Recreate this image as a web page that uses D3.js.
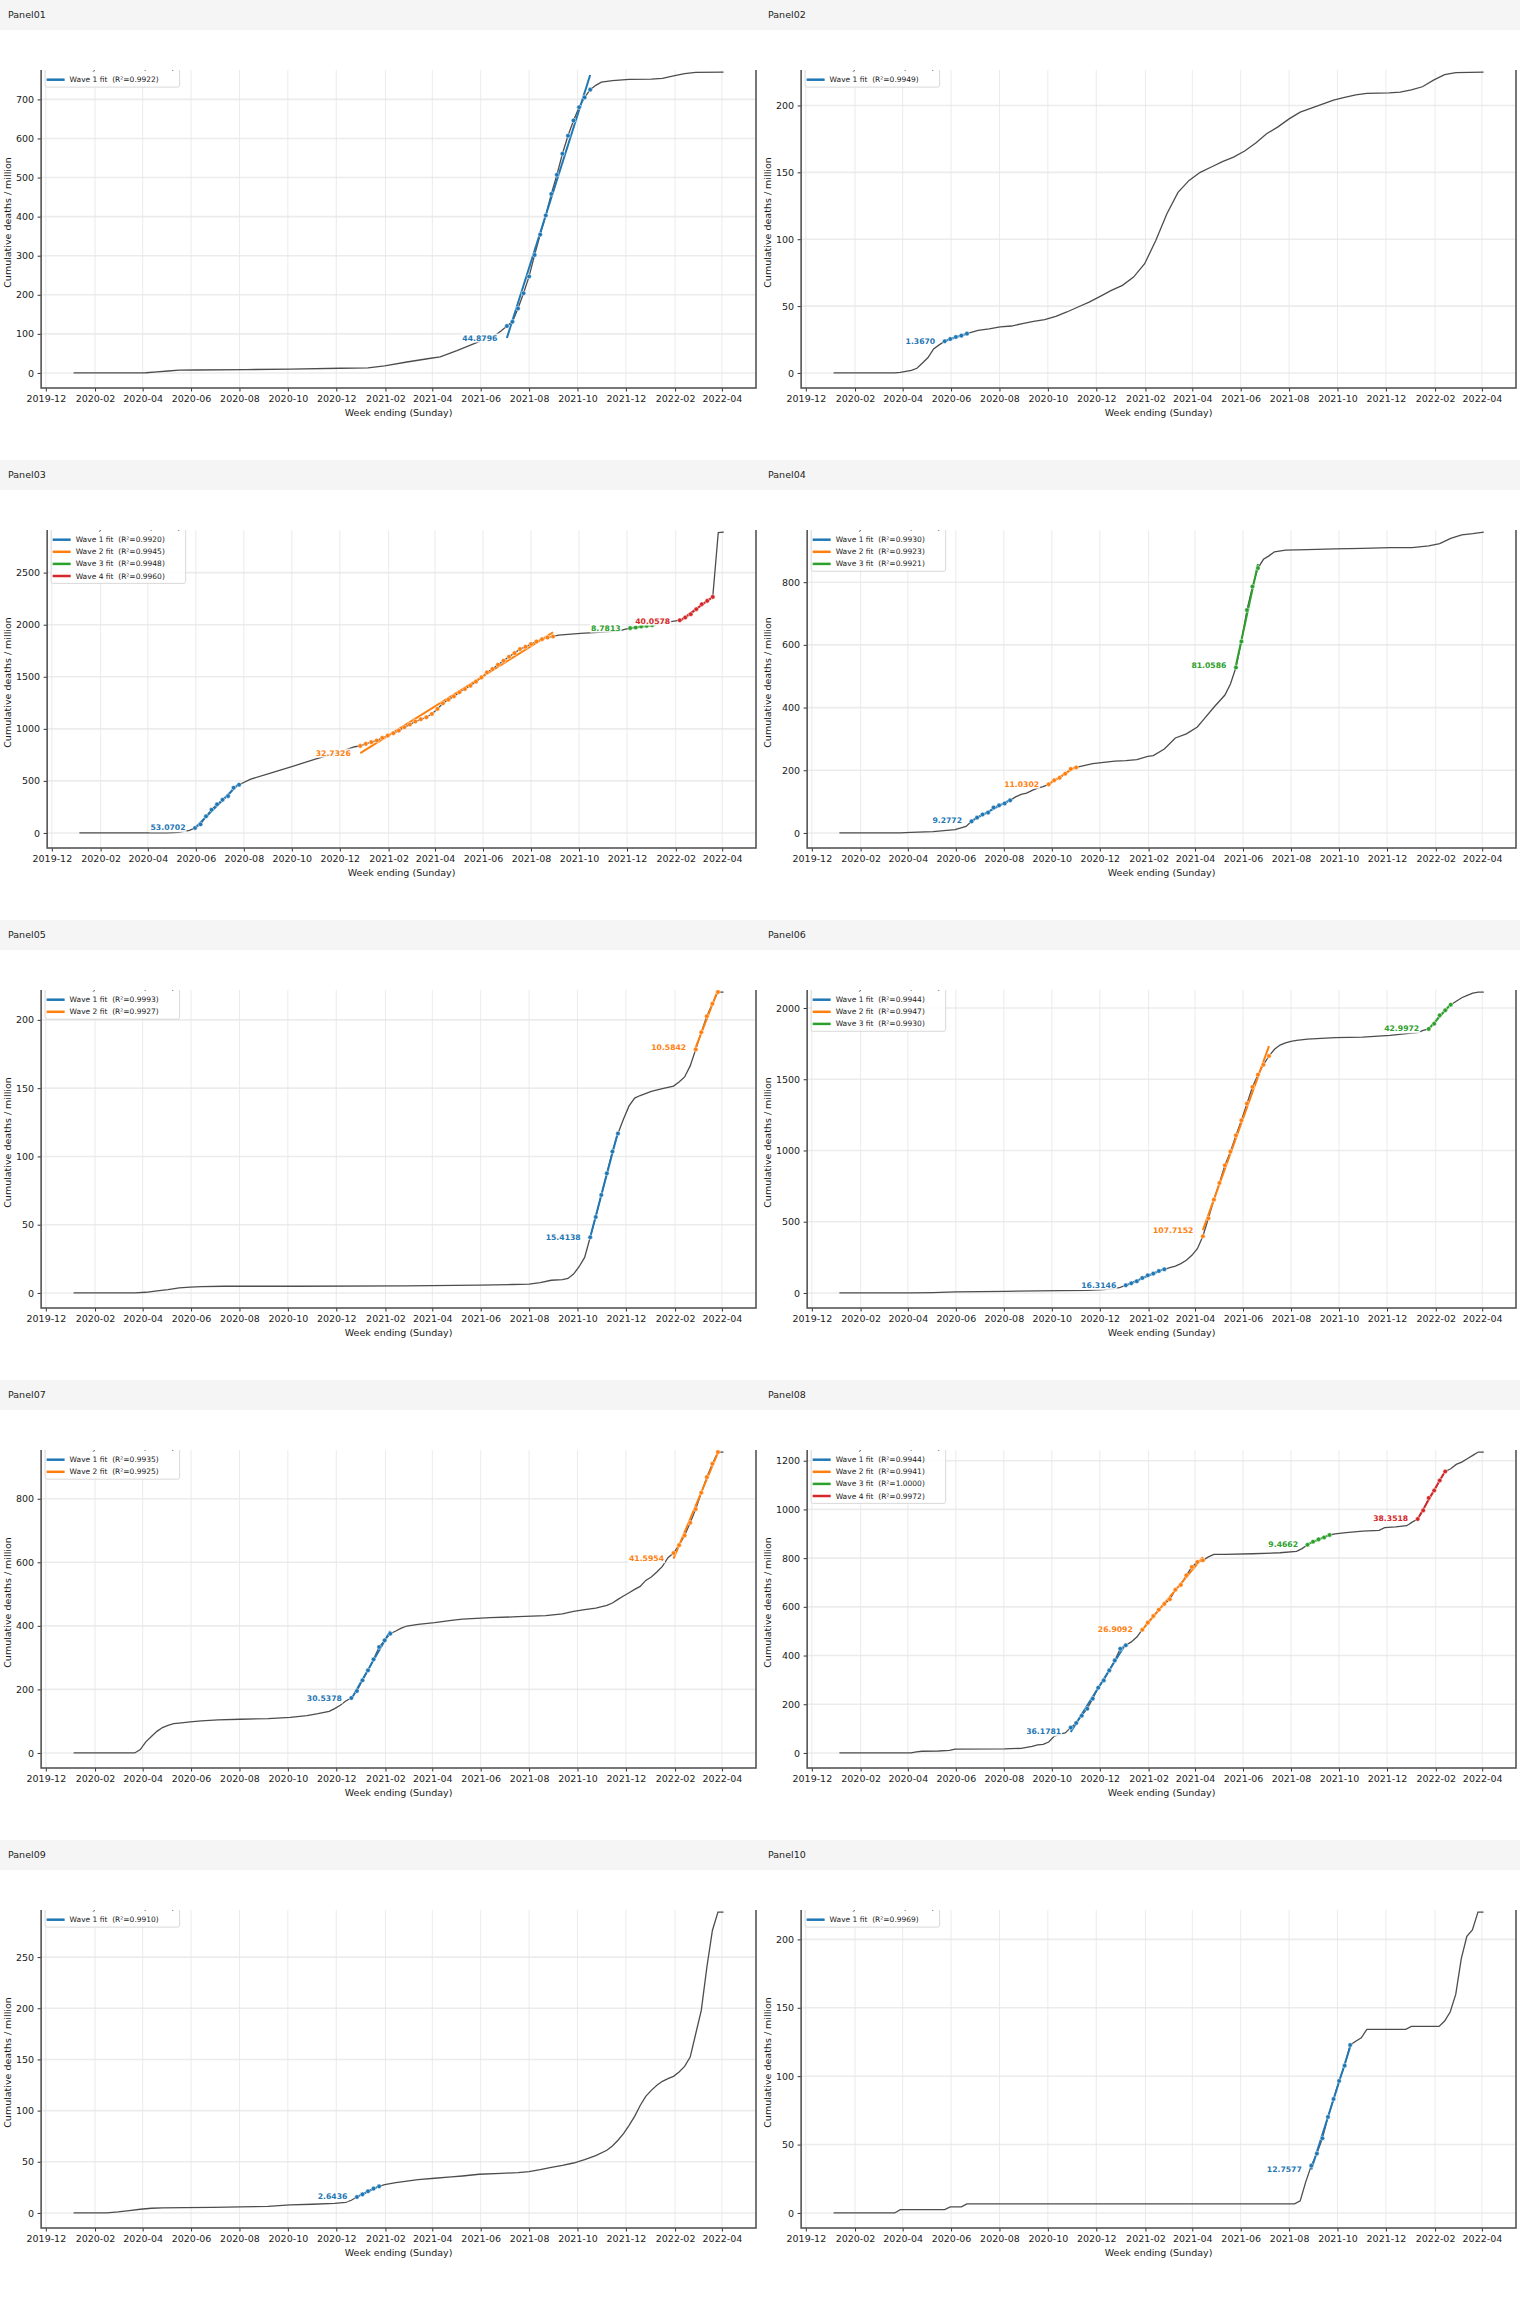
<!DOCTYPE html>
<html>
<head>
<meta charset="utf-8">
<script src="https://cdn.jsdelivr.net/npm/d3@7"></script>
<style>
  body { margin: 0; background: #fff; }
  text { font-family: "DejaVu Sans", sans-serif; }
</style>
</head>
<body>
<svg id="chart"></svg>
<script>
const width = 1520
const height = 2300
const panelW = 760
const panelH = 460

// week 0 is Sunday 2020-01-05, one point per week up to week 117
const firstWeek = new Date(Date.UTC(2020, 0, 5))
const waveColors = ["#1f77b4", "#ff7f0e", "#2ca02c", "#d62728"]
const lineLabel = "Weekly cumulative (n=118)"

// [week, cumulative deaths / million] outside the fitted waves
const line01 = [[0,0],[12,0],[13,0.5],[15,3],[17,5],[19,7],[22,7.5],[31,8.5],[39,10],[48,12],[53,13],[56,18],[60,28],[64,37],[66,41],[69,57],[73,80],[76,98],[77,108],[94,736],[95,744],[97,748],[100,751],[104,752],[106,754],[108,760],[110,766],[112,769],[117,770]]
const line02 = [[0,0],[11,0],[12,0.5],[14,2],[15,3.5],[16,7.5],[17,11.5],[18,18],[19,21],[26,31.9],[28,33],[30,34.4],[32,35.1],[34,36.9],[36,38.6],[38,39.9],[40,42.3],[42,45.6],[44,49.3],[46,53],[48,57.3],[50,61.8],[52,65.5],[54,71.7],[56,81.7],[58,99],[60,119],[62,135],[64,144],[66,150],[68,154],[70,158],[72,161.4],[74,166],[76,172],[78,179],[80,184],[82,190],[84,195],[86,198],[88,201],[90,204],[92,206],[94,208],[96,209],[100,209.5],[102,210],[104,211.7],[106,214],[108,219],[110,223],[112,224.6],[117,225]]
const line03 = [[0,0],[16,0],[18,6],[20,25],[31,515],[35,580],[39,645],[43,712],[47,775],[50,828],[87,1900],[91,1916],[95,1928],[98,1941],[99,1955],[105,2005],[107,2027],[108,2035],[116,2885],[117,2890]]
const line04 = [[0,0],[11,0],[13,2],[17,4],[21,10.6],[23,21],[32,115],[33,123],[34,127],[35,136],[36,143],[37,148],[44,213],[46,221],[48,225],[50,229],[52,231],[54,234],[56,244],[57,247],[59,268],[61,303],[63,316],[65,338],[66,359],[68,401],[70,440],[71,475],[77,873],[78,884],[79,897],[81,902],[85,904],[90,906],[95,908],[100,910],[104,910],[107,916],[109,923],[111,940],[113,951],[115,955],[117,960]]
const line05 = [[0,0],[11,0],[13,0.5],[15,1.5],[17,2.5],[19,3.7],[21,4.2],[23,4.7],[27,4.9],[40,4.9],[60,5.2],[73,5.7],[79,6.2],[82,6.4],[84,7.6],[86,9.3],[88,9.8],[89,10.6],[90,13.8],[91,19.2],[92,26],[99,127.4],[100,137],[101,142.7],[102,144.6],[104,147.6],[106,149.6],[108,151.5],[109,154.5],[110,158.2],[111,166.3],[117,220.4]]
const line06 = [[0,0],[13,0],[17,2.3],[21,7],[30,11.7],[40,16.4],[45,18.7],[48,23.4],[50,30],[51,40],[60,178],[61,189],[62,206],[63,229],[64,264],[65,311],[79,1710],[80,1740],[81,1755],[82,1765],[83,1773],[85,1782],[90,1792],[95,1796],[100,1808],[103,1820],[105,1827],[106,1843],[112,2047],[113,2072],[114,2089],[115,2105],[116,2112],[117,2112]]
const line07 = [[0,0],[11,0],[12,10.5],[13,35],[14,52],[15,68],[16,80],[17,87],[18,92],[19,94],[21,97.5],[23,100.7],[26,103.8],[30,106],[35,108],[39,112],[42,117.4],[44,123.7],[46,131],[47,139.5],[48,150],[49,163.6],[58,383.8],[59,393],[60,399.5],[62,404.7],[65,410],[68,417],[70,421.5],[75,425.7],[80,428.8],[85,432],[88,438],[90,445.6],[92,450.9],[94,456],[96,464.5],[97,471.8],[98,483.4],[99,493.8],[100,504.3],[101,514.8],[102,524.3],[103,543],[104,553.6],[105,569.3],[106,587],[107,614.4],[117,947]]
const line08 = [[0,0],[13,0],[14,4],[15,7],[18,8],[20,11],[21,16],[30,16.4],[33,19],[35,27],[36,33],[37,35.6],[38,45],[39,68],[40,77],[41,82],[53,456],[54,476],[67,805],[68,815.5],[70,815.5],[75,818],[80,822],[83,828],[84,839],[90,900],[92,904.5],[95,911],[98,914],[99,925],[101,928],[103,933],[104,948],[111,1167],[112,1185],[113,1194.5],[114,1208],[115,1222],[116,1235.6],[117,1235.6]]
const line09 = [[0,0],[6,0],[8,1],[10,2.3],[12,3.6],[14,4.6],[16,4.9],[20,5.2],[25,5.5],[30,5.9],[35,6.5],[39,7.8],[43,8.5],[47,9.4],[49,10.4],[50,12.4],[56,27.7],[58,29.6],[60,31.2],[62,32.6],[65,33.9],[68,35.2],[70,36.1],[73,37.8],[77,38.7],[80,39.4],[82,40.4],[84,42.3],[86,44.6],[88,46.5],[90,48.8],[92,52.1],[94,56],[96,61.2],[97,65.4],[98,71],[99,77.5],[100,85.6],[101,94.4],[102,105],[103,113.9],[104,119.8],[105,124.7],[106,128.6],[107,131.2],[108,133.5],[109,137.7],[110,143.2],[111,152.3],[112,175.1],[113,198],[114,240],[115,276],[116,294],[117,294]]
const line10 = [[0,0],[11,0],[12,2.4],[20,2.4],[21,4.4],[23,4.4],[24,6.6],[83,6.6],[84,8.8],[85,22.7],[94,125.5],[95,128.1],[96,134.2],[103,134.2],[104,136.4],[109,136.4],[110,140.3],[111,146.9],[112,159.8],[113,185.9],[114,202.2],[115,207],[116,220],[117,220]]

// waves: [first week, weekly values]
const waves01 = [[78,[120,131,165,204,247,302,354,403,458,507,561,607,646,680,705,725]]]
const waves02 = [[20,[23.7,25.4,26.9,27.9,29.4]]]
const waves03 = [[21,[48,83,160,223,275,319,354,434,463]],
                 [51,[836,856,872,888,913,935,958,983,1015,1041,1070,1092,1111,1143,1191,1245,1280,1312,1351,1382,1414,1453,1494,1542,1574,1616,1654,1692,1727,1766,1788,1814,1839,1861,1877,1887]],
                 [100,[1967,1973,1983,1989,1995]],
                 [109,[2043,2069,2101,2149,2197,2229,2267]]]
const waves04 = [[24,[37,49,59,65,81,88,94,104]],[38,[155,168,176,189,204,209]],[72,[528,611,711,786,845]]]
const waves05 = [[93,[40.8,55.6,71.8,87.6,103.6,116.8]],[112,[178.4,190.9,202.7,211.8,220.4]]]
const waves06 = [[52,[54,68,82,105,124,136,154,166]],[66,[398,524,655,772,896,992,1106,1212,1329,1446,1532,1602,1663]],[107,[1853,1890,1949,1984,2023]]]
const waves07 = [[50,[173,195,228.6,260,294.6,333.4,354.4,375.4]],[108,[629,654,684.7,724.5,767.5,819,868,910,946.8]]]
const waves08 = [[42,[104,123,153,182,223,268,298,339,380,428,442]],[55,[506,535,562,588,612,631,670,690,729,763.5,784,791]],[85,[855,867.5,877,885,895]],[105,[960.5,996,1047,1078,1119,1156]]]
const waves09 = [[51,[15.6,18.2,21.2,23.8,26]]]
const waves10 = [[86,[34.6,43.4,54.6,70.2,83.3,96.5,107.7,122.8]]]

// slope labels and R² per wave
const slopes01 = ["44.8796"], r2s01 = ["0.9922"]
const slopes02 = ["1.3670"], r2s02 = ["0.9949"]
const slopes03 = ["53.0702", "32.7326", "8.7813", "40.0578"], r2s03 = ["0.9920", "0.9945", "0.9948", "0.9960"]
const slopes04 = ["9.2772", "11.0302", "81.0586"], r2s04 = ["0.9930", "0.9923", "0.9921"]
const slopes05 = ["15.4138", "10.5842"], r2s05 = ["0.9993", "0.9927"]
const slopes06 = ["16.3146", "107.7152", "42.9972"], r2s06 = ["0.9944", "0.9947", "0.9930"]
const slopes07 = ["30.5378", "41.5954"], r2s07 = ["0.9935", "0.9925"]
const slopes08 = ["36.1781", "26.9092", "9.4662", "38.3518"], r2s08 = ["0.9944", "0.9941", "1.0000", "0.9972"]
const slopes09 = ["2.6436"], r2s09 = ["0.9910"]
const slopes10 = ["12.7577"], r2s10 = ["0.9969"]

const panels = [
  {name: "Panel01", line: line01, waves: waves01, slopes: slopes01, r2: r2s01},
  {name: "Panel02", line: line02, waves: waves02, slopes: slopes02, r2: r2s02},
  {name: "Panel03", line: line03, waves: waves03, slopes: slopes03, r2: r2s03},
  {name: "Panel04", line: line04, waves: waves04, slopes: slopes04, r2: r2s04},
  {name: "Panel05", line: line05, waves: waves05, slopes: slopes05, r2: r2s05},
  {name: "Panel06", line: line06, waves: waves06, slopes: slopes06, r2: r2s06},
  {name: "Panel07", line: line07, waves: waves07, slopes: slopes07, r2: r2s07},
  {name: "Panel08", line: line08, waves: waves08, slopes: slopes08, r2: r2s08},
  {name: "Panel09", line: line09, waves: waves09, slopes: slopes09, r2: r2s09},
  {name: "Panel10", line: line10, waves: waves10, slopes: slopes10, r2: r2s10}
]

const svg = d3.select("#chart")
  .attr("width", width)
  .attr("height", height)

// everything above y=70 in a panel is cut off, like the source images
svg.append("defs").append("clipPath")
  .attr("id", "viewClip")
  .append("rect")
  .attr("x", 0).attr("y", 70)
  .attr("width", panelW).attr("height", panelH - 70)

panels.forEach((p, i) => drawPanel(p, i))

function weekDate(k) {
  return d3.utcDay.offset(firstWeek, 7 * k)
}

// matplotlib-like step: 1, 2, 2.5, 5 x 10^n, at most 9 intervals
function tickStep(range) {
  const base = Math.pow(10, Math.floor(Math.log10(range / 9)))
  for (const m of [1, 2, 2.5, 5, 10]) {
    if (range / (m * base) <= 9) return m * base
  }
}

function fitLine(start, vals) {
  const xs = vals.map((_, j) => start + j)
  const mx = d3.mean(xs), my = d3.mean(vals)
  const slope = d3.sum(xs, (v, j) => (v - mx) * (vals[j] - my)) / d3.sum(xs, v => (v - mx) ** 2)
  const end = start + vals.length - 1
  return [[start, my + slope * (start - mx)], [end, my + slope * (end - mx)]]
}

function drawPanel(p, idx) {
  const g = svg.append("g")
    .attr("transform", `translate(${(idx % 2) * panelW},${Math.floor(idx / 2) * panelH})`)

  // header strip
  g.append("rect")
    .attr("width", panelW).attr("height", 30)
    .attr("fill", "#f5f5f5")
  g.append("text")
    .attr("x", 8).attr("y", 18)
    .attr("font-family", "DejaVu Sans Mono")
    .attr("font-size", 9.5)
    .attr("fill", "#222")
    .text(p.name)

  // full weekly series = plain points + wave points
  const pts = p.line.slice()
  p.waves.forEach(w => w[1].forEach((v, j) => pts.push([w[0] + j, v])))
  pts.sort((a, b) => a[0] - b[0])

  const [vmin, vmax] = d3.extent(pts, d => d[1])
  const yDomain = [vmin - 0.05 * (vmax - vmin), vmax + 0.05 * (vmax - vmin)]
  const step = tickStep(yDomain[1] - yDomain[0])
  const yTicks = d3.range(Math.ceil(yDomain[0] / step) * step, yDomain[1], step)

  const left = 23 + 6.04 * d3.max(yTicks, t => String(t).length)
  const right = 756, top = 57, bottom = 388

  const t0 = weekDate(pts[0][0]), t1 = weekDate(pts[pts.length - 1][0])
  const pad = (t1 - t0) * 0.05
  const x = d3.scaleUtc()
    .domain([new Date(+t0 - pad), new Date(+t1 + pad)])
    .range([left, right])
  const y = d3.scaleLinear().domain(yDomain).range([bottom, top])

  const xTicks = d3.utcMonth.range(x.domain()[0], x.domain()[1])
    .filter(d => d.getUTCMonth() % 2 === 1)

  const plot = g.append("g").attr("clip-path", "url(#viewClip)")

  // grid
  plot.append("g").selectAll("line").data(yTicks).join("line")
    .attr("x1", left).attr("x2", right)
    .attr("y1", d => y(d)).attr("y2", d => y(d))
    .attr("stroke", "#ececec").attr("stroke-width", 1.6)
  plot.append("g").selectAll("line").data(xTicks).join("line")
    .attr("x1", d => x(d)).attr("x2", d => x(d))
    .attr("y1", top).attr("y2", bottom)
    .attr("stroke", "#e6e6e6").attr("stroke-width", 0.8)

  // axes
  const xAxis = plot.append("g")
    .attr("transform", `translate(0,${bottom})`)
    .call(d3.axisBottom(x).tickValues(xTicks).tickFormat(d3.utcFormat("%Y-%m"))
      .tickSize(3.5).tickPadding(3.5))
  const yAxis = plot.append("g")
    .attr("transform", `translate(${left},0)`)
    .call(d3.axisLeft(y).tickValues(yTicks).tickFormat(d3.format("d"))
      .tickSize(3.5).tickPadding(3.5))
  ;[xAxis, yAxis].forEach(a => {
    a.select(".domain").remove()
    a.attr("font-family", "DejaVu Sans").attr("font-size", 9.5)
    a.selectAll(".tick line").attr("stroke", "#333")
    a.selectAll(".tick text").attr("fill", "#1a1a1a")
  })

  // spines
  plot.append("rect")
    .attr("x", left).attr("y", top)
    .attr("width", right - left).attr("height", bottom - top)
    .attr("fill", "none").attr("stroke", "#555").attr("stroke-width", 1.6)

  plot.append("text")
    .attr("x", (left + right) / 2).attr("y", 415.5)
    .attr("text-anchor", "middle")
    .attr("font-size", 9.5).attr("fill", "#1a1a1a")
    .text("Week ending (Sunday)")
  plot.append("text")
    .attr("transform", `translate(10.6,${(top + bottom) / 2}) rotate(-90)`)
    .attr("text-anchor", "middle")
    .attr("font-size", 9.5).attr("fill", "#1a1a1a")
    .text("Cumulative deaths / million")

  // weekly cumulative line
  const line = d3.line()
    .x(d => x(weekDate(d[0])))
    .y(d => y(d[1]))
  plot.append("path")
    .datum(pts)
    .attr("d", line)
    .attr("fill", "none")
    .attr("stroke", "#4d4d4d")
    .attr("stroke-width", 1.3)

  // waves: fit line, points, slope label
  p.waves.forEach((w, i) => {
    const color = waveColors[i]
    const fit = fitLine(w[0], w[1])
    plot.append("path")
      .datum(fit)
      .attr("d", line)
      .attr("stroke", color)
      .attr("stroke-width", 2)

    plot.append("g").selectAll("circle")
      .data(w[1].map((v, j) => [w[0] + j, v]))
      .join("circle")
      .attr("cx", d => x(weekDate(d[0])))
      .attr("cy", d => y(d[1]))
      .attr("r", 2.3)
      .attr("fill", color)
      .attr("stroke", "#fff")
      .attr("stroke-width", 0.5)

    const lab = plot.append("g")
    const txt = lab.append("text")
      .attr("x", x(weekDate(w[0])) - 9.5)
      .attr("y", y(fit[0][1]))
      .attr("text-anchor", "end")
      .attr("dominant-baseline", "central")
      .attr("font-size", 7.7)
      .attr("font-weight", "bold")
      .attr("fill", color)
      .text(p.slopes[i])
    const bb = txt.node().getBBox()
    lab.insert("rect", "text")
      .attr("x", bb.x - 1).attr("y", bb.y)
      .attr("width", bb.width + 2).attr("height", bb.height)
      .attr("fill", "#fff").attr("fill-opacity", 0.85)
  })

  // legend, upper left inside the axes
  const rows = [{label: lineLabel, color: "#4d4d4d", w: 1.5}]
    .concat(p.waves.map((w, i) => ({label: `Wave ${i + 1} fit  (R²=${p.r2[i]})`, color: waveColors[i], w: 2.5})))
  const leg = plot.append("g")
    .attr("transform", `translate(${left + 4},60.5)`)
  leg.append("rect")
    .attr("width", 134.5)
    .attr("height", 7.1 + 12.1 * (rows.length - 1) + 7.4)
    .attr("rx", 2)
    .attr("fill", "#fff").attr("fill-opacity", 0.85)
    .attr("stroke", "#cfcfcf").attr("stroke-width", 0.8)
  const row = leg.selectAll("g.row").data(rows).join("g")
    .attr("class", "row")
    .attr("transform", (d, j) => `translate(0,${7.1 + 12.1 * j})`)
  row.append("line")
    .attr("x1", 1.5).attr("x2", 19.5)
    .attr("stroke", d => d.color)
    .attr("stroke-width", d => d.w)
  row.append("text")
    .attr("x", 24.5)
    .attr("dominant-baseline", "central")
    .attr("font-size", 7.5)
    .attr("fill", "#1a1a1a")
    .style("white-space", "pre")
    .text(d => d.label)
}
</script>
</body>
</html>
